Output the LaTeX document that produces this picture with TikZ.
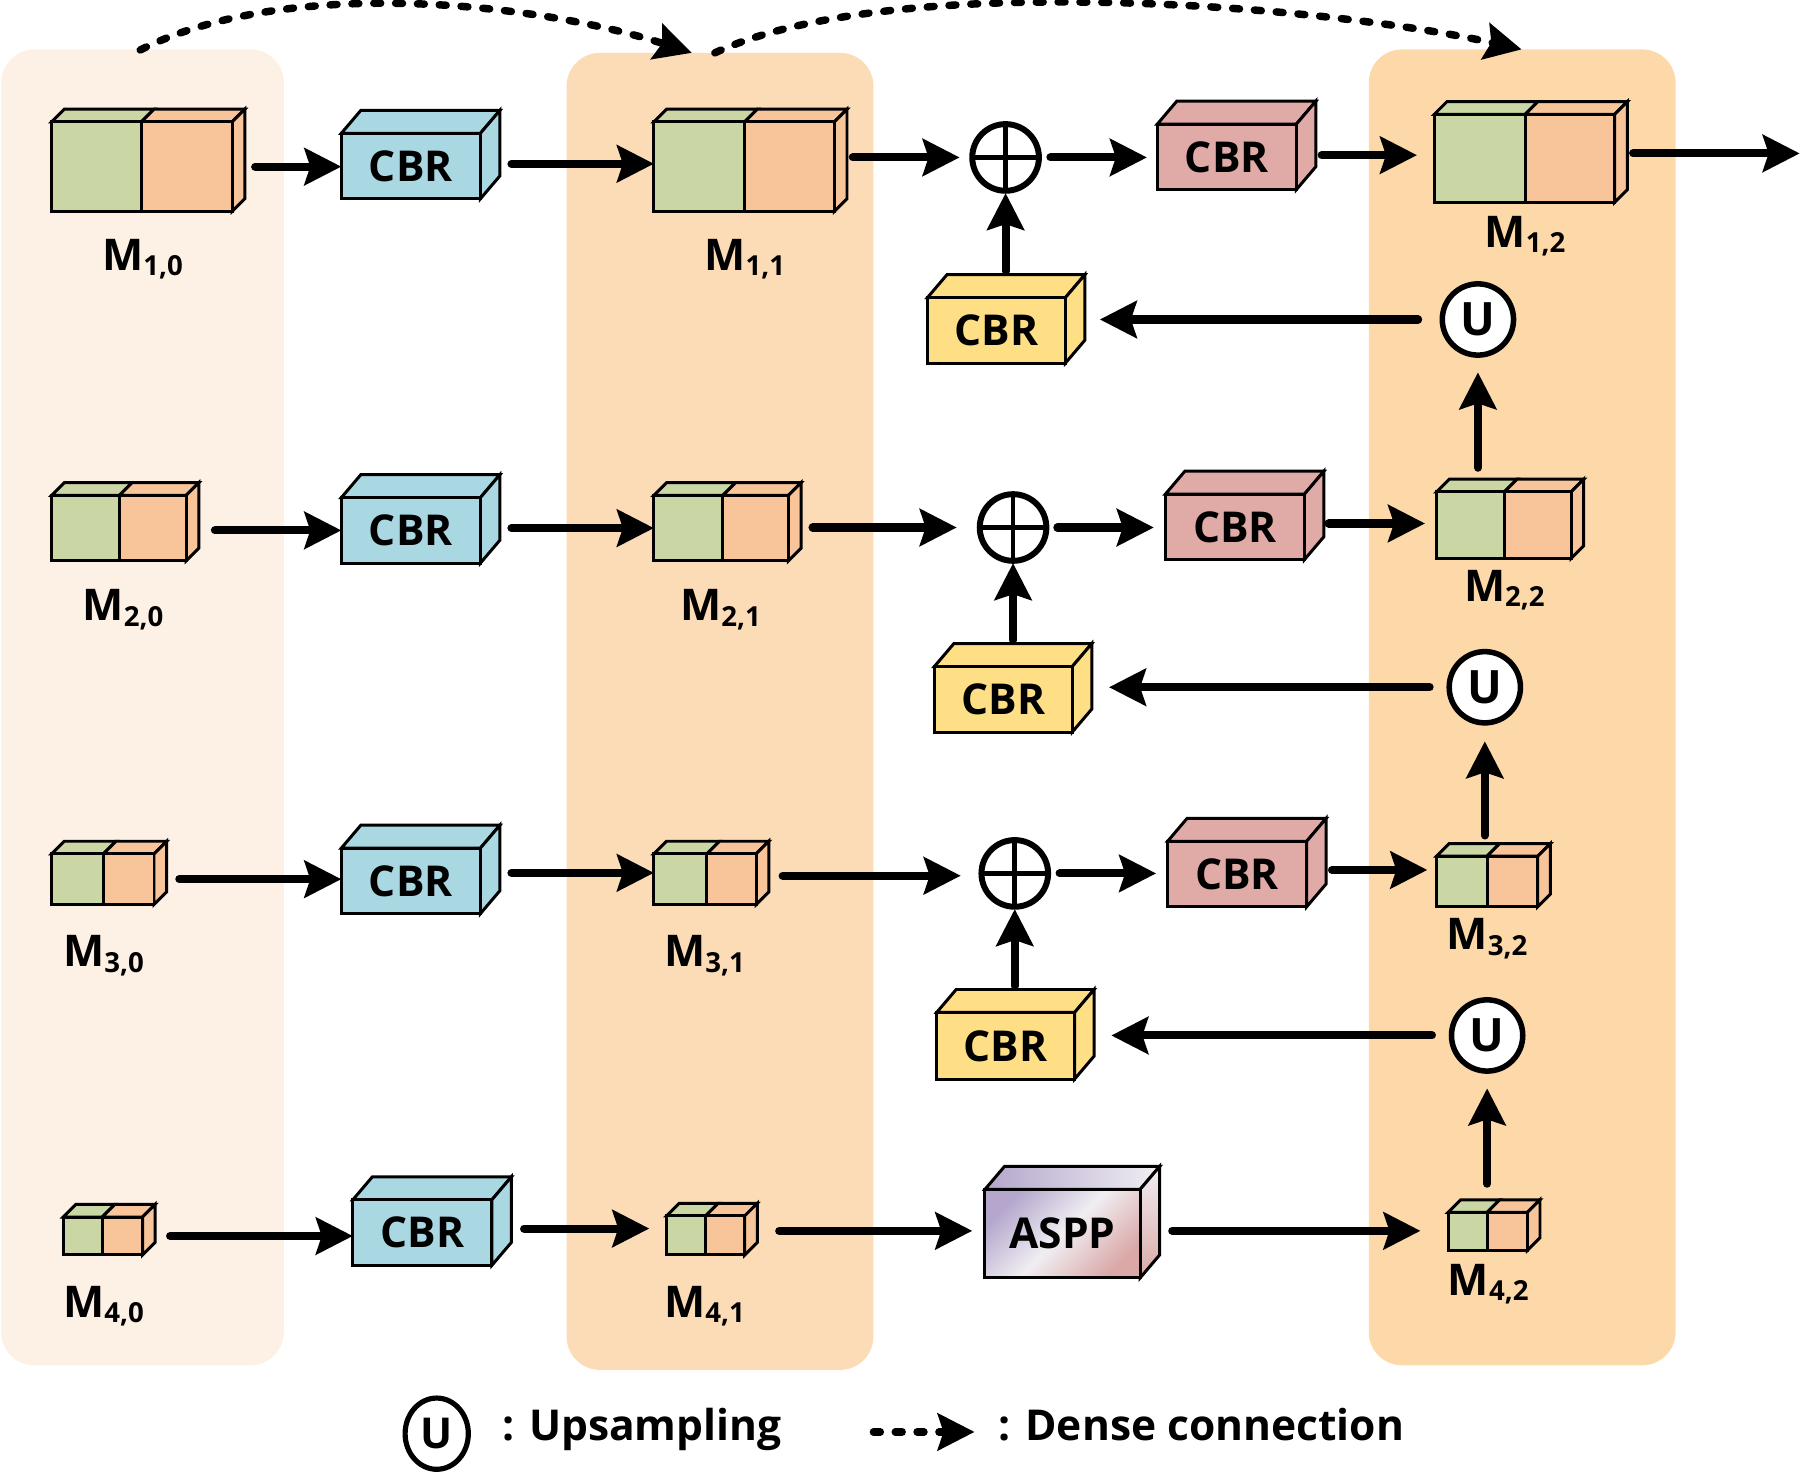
\documentclass[tikz,border=0pt]{standalone}
\usepackage{fontspec}
\setmainfont{Open Sans}
\usetikzlibrary{arrows.meta,shapes.geometric}
\definecolor{cg}{HTML}{CAD7A5}
\definecolor{co}{HTML}{F8C59B}
\definecolor{cb}{HTML}{A9D8E3}
\definecolor{cr}{HTML}{E0AAA7}
\definecolor{cy}{HTML}{FEDF85}
\definecolor{cpa}{HTML}{FDF0E4}
\definecolor{cpb}{HTML}{FCDBB7}
\definecolor{cpc}{HTML}{FDD8A8}
\definecolor{cpu}{HTML}{B4A6CC}
\definecolor{cwh}{HTML}{F0EEF2}
\definecolor{cpk}{HTML}{DBA8A8}
\newcommand{\cbrfont}{\fontsize{37}{37}\selectfont\bfseries}
\newcommand{\mlab}[2]{M\raisebox{-5pt}{\fontsize{24}{24}\selectfont #1,#2}}
% feature map: name, x1, y1, x2, y2, split, depth
\newcommand{\fmap}[7]{%
  \draw[bline,fill=cg] (#2,#3) -- ({#2+#7},{#3-#7}) -- ({#6+#7},{#3-#7}) -- (#6,#3) -- cycle;
  \draw[bline,fill=co] (#6,#3) -- ({#6+#7},{#3-#7}) -- ({#4+#7},{#3-#7}) -- (#4,#3) -- cycle;
  \draw[bline,fill=co] (#4,#3) -- ({#4+#7},{#3-#7}) -- ({#4+#7},{#5-#7}) -- (#4,#5) -- cycle;
  \draw[bline,fill=cg] (#2,#3) rectangle (#6,#5);
  \draw[bline,fill=co] (#6,#3) rectangle (#4,#5);
  \node[inner sep=0pt,minimum width={(#4-#2)*1pt},minimum height={(#5-#3)*1pt}] (#1) at ({(#2+#4)/2},{(#3+#5)/2}) {};
  \coordinate (#1t) at ({(#2+#4)/2+#7},{#3-#7});
}
% CBR block: name, x1, y1, x2, y2, colour
\newcommand{\cbrbox}[6]{%
  \draw[bline,fill=#6] (#2,#3) -- ({#2+17},{#3-20}) -- ({#4+17},{#3-20}) -- (#4,#3) -- cycle;
  \draw[bline,fill=#6] (#4,#3) -- ({#4+17},{#3-20}) -- ({#4+17},{#5-20}) -- (#4,#5) -- cycle;
  \node[bline,draw,fill=#6,inner sep=0pt,minimum width={(#4-#2)*1pt},minimum height={(#5-#3)*1pt},font=\cbrfont] (#1) at ({(#2+#4)/2},{(#3+#5)/2}) {CBR};
  \coordinate (#1t) at ({(#2+#4)/2+8.5},{#3-20});
  \coordinate (#1r) at ({#4+17},{(#3+#5)/2-10});
}
\begin{document}
\begin{tikzpicture}[x=1pt,y=-1pt,
  every node/.style={outer sep=0pt},
  bline/.style={line width=2.6pt},
  arr/.style={line width=7pt, line cap=round, -{Stealth[length=32pt,width=32pt,inset=5pt]}},
  dense/.style={line width=6.5pt, line cap=round, dash pattern=on 6pt off 13pt, -{Stealth[length=32pt,width=32pt,inset=5pt]}},
  plusnode/.style={circle, draw, fill=white, line width=5.2pt, minimum size=58pt, inner sep=0pt,
    path picture={\draw[line width=4pt] (path picture bounding box.north) -- (path picture bounding box.south)
      (path picture bounding box.west) -- (path picture bounding box.east);}},
  upnode/.style={circle, draw, fill=white, line width=4.8pt, minimum size=62pt, inner sep=0pt, font=\fontsize{40}{40}\selectfont\bfseries},
  lab/.style={anchor=base, inner sep=0pt, font=\fontsize{38}{38}\selectfont\bfseries},
  legtext/.style={anchor=base west, inner sep=0pt, font=\fontsize{37}{37}\selectfont\bfseries},
  panel/.style={rounded corners=29pt}
]
\useasboundingbox (0,0) rectangle (1568,1287);
% panels
\fill[cpa,panel] (1,43) rectangle (247,1188);
\fill[cpb,panel] (493,46) rectangle (760,1192);
\fill[cpc,panel] (1191,43) rectangle (1458,1188);

% feature maps
\fmap{m10}{45}{106}{202}{184}{123}{11}
\fmap{m11}{569}{106}{726}{184}{648}{11}
\fmap{m12}{1248}{99.5}{1405}{176}{1327}{11}
\fmap{m20}{45}{431}{162}{488}{104}{11}
\fmap{m21}{569}{431}{686}{488}{629}{11}
\fmap{m22}{1250}{428}{1367}{486}{1309}{11}
\fmap{m30}{45}{743}{134}{787}{90}{11}
\fmap{m31}{569}{743}{658}{787}{615}{11}
\fmap{m32}{1250}{745}{1338}{789}{1294}{11}
\fmap{m40}{55}{1059}{124}{1092}{89}{11}
\fmap{m41}{580}{1058}{648}{1092}{614}{11}
\fmap{m42}{1260}{1055}{1329}{1088}{1294}{11}

% labels
\node[lab] (l10) at (124,235) {\mlab{1}{0}};
\node[lab] (l11) at (648,235) {\mlab{1}{1}};
\node[lab] (l12) at (1327,215) {\mlab{1}{2}};
\node[lab] (l20) at (107,540) {\mlab{2}{0}};
\node[lab] (l21) at (627,540) {\mlab{2}{1}};
\node[lab] (l22) at (1309,523) {\mlab{2}{2}};
\node[lab] (l30) at (90,841) {\mlab{3}{0}};
\node[lab] (l31) at (613,841) {\mlab{3}{1}};
\node[lab] (l32) at (1294,826) {\mlab{3}{2}};
\node[lab] (l40) at (90,1146) {\mlab{4}{0}};
\node[lab] (l41) at (613,1146) {\mlab{4}{1}};
\node[lab] (l42) at (1295,1127) {\mlab{4}{2}};

% CBR blocks
\cbrbox{b1}{297}{116}{418}{173}{cb}
\cbrbox{b2}{297}{433}{418}{490}{cb}
\cbrbox{b3}{297}{738}{418}{795}{cb}
\cbrbox{b4}{307}{1044}{428}{1101}{cb}
\cbrbox{r1}{1007}{108}{1128}{165}{cr}
\cbrbox{r2}{1014}{430}{1135}{487}{cr}
\cbrbox{r3}{1016}{732}{1137}{789}{cr}
\cbrbox{y1}{807}{259}{927}{316}{cy}
\cbrbox{y2}{813}{580}{933}{637}{cy}
\cbrbox{y3}{815}{881}{935}{939}{cy}

% ASPP
\draw[bline,left color=cpu,right color=cwh] (857,1035) -- (874,1015) -- (1009,1015) -- (992,1035) -- cycle;
\draw[bline,top color=cwh,bottom color=cpk] (992,1035) -- (1009,1015) -- (1009,1092) -- (992,1112) -- cycle;
\node[bline,draw,top color=cpu,bottom color=cpk,middle color=cwh,shading angle=45,inner sep=0pt,
  minimum width=135pt,minimum height=77pt,font=\cbrfont] (aspp) at (924.5,1073.5) {ASPP};

% sum and upsampling nodes
\node[plusnode] (p1) at (875,137) {};
\node[plusnode] (p2) at (881.5,459) {};
\node[plusnode] (p3) at (883,760) {};
\node[upnode] (u1) at (1286,278) {U};
\node[upnode] (u2) at (1292,598) {U};
\node[upnode] (u3) at (1294,901) {U};

% row 1
\draw[arr, shorten <=20pt] (m10.east) -- (m10.east -| b1.west);
\draw[arr, shorten <=27pt] ([yshift=2pt]b1.east) -- ([yshift=2pt]b1.east -| m11.west);
\draw[arr, shorten <=16pt, shorten >=11pt] (p1.west -| m11.east) -- (p1.west);
\draw[arr, shorten <=10pt, shorten >=9pt] (p1.east) -- (p1.east -| r1.west);
\draw[arr, shorten <=22pt, shorten >=15pt] ([yshift=1.5pt]r1.east) -- ([yshift=1.5pt]r1.east -| m12.west);
\coordinate (out) at (1566,133.5);
\draw[arr, shorten <=16pt] (m12.east |- out) -- (out);
\draw[arr, shorten <=3pt, shorten >=2pt] (p1.south |- y1t) -- (p1.south);
\draw[arr, shorten <=21pt, shorten >=13pt] (u1.west) -- (u1.west -| y1r);
\draw[arr, shorten <=10pt, shorten >=15pt] (u1.south |- m22t) -- (u1.south);

% row 2
\draw[arr, shorten <=25pt] (b2.west -| m20.east) -- (b2.west);
\draw[arr, shorten <=27pt] (m21.west -| b2.east) -- (m21.west);
\draw[arr, shorten <=21pt, shorten >=20pt] (p2.west -| m21.east) -- (p2.west);
\draw[arr, shorten <=9.5pt, shorten >=10pt] (p2.east) -- (p2.east -| r2.west);
\draw[arr, shorten <=21pt, shorten >=10pt] ([yshift=3pt]r2.east) -- ([yshift=3pt]r2.east -| m22.west);
\draw[arr, shorten <=3pt, shorten >=2pt] (p2.south |- y2t) -- (p2.south);
\draw[arr, shorten <=17pt, shorten >=15pt] (u2.west) -- (u2.west -| y2r);
\draw[arr, shorten <=7pt, shorten >=16pt] (u2.south |- m32t) -- (u2.south);

% row 3
\draw[arr, shorten <=22pt] (m30.east) -- (m30.east -| b3.west);
\draw[arr, shorten <=27pt] ([yshift=7pt]b3.east) -- ([yshift=7pt]b3.east -| m31.west);
\draw[arr, shorten <=23pt, shorten >=18pt] ([yshift=3pt]m31.east) -- ([yshift=3pt]m31.east -| p3.west);
\draw[arr, shorten <=10pt, shorten >=10pt] (p3.east) -- (p3.east -| r3.west);
\draw[arr, shorten <=22pt, shorten >=8pt] ([yshift=3.5pt]r3.east) -- ([yshift=3.5pt]r3.east -| m32.west);
\draw[arr, shorten <=3pt, shorten >=2pt] (p3.south |- y3t) -- (p3.south);
\draw[arr, shorten <=17pt, shorten >=15pt] (u3.west) -- (u3.west -| y3r);
\draw[arr, shorten <=14pt, shorten >=15pt] (u3.south |- m42t) -- (u3.south);

% row 4
\draw[arr, shorten <=24pt] (m40.east) -- (m40.east -| b4.west);
\draw[arr, shorten <=28pt, shorten >=15pt] ([yshift=3.5pt]b4.east) -- ([yshift=3.5pt]b4.east -| m41.west);
\draw[arr, shorten <=30pt, shorten >=11pt] ([yshift=2.5pt]aspp.west -| m41.east) -- ([yshift=2.5pt]aspp.west);
\draw[arr, shorten <=28pt, shorten >=24pt] ([yshift=2.5pt]aspp.east) -- ([yshift=2.5pt]aspp.east -| m42.west);

% dense connections
\coordinate (d1s) at (122,43.5);
\coordinate (d1e) at (602,46);
\draw[dense] (d1s) .. controls (249,-21) and (466,2) .. (d1e);
\coordinate (d2s) at (622,46);
\coordinate (d2e) at (1324,43);
\draw[dense] (d2s) .. controls (778,-27) and (1156,5) .. (d2e);

% legend
\node[draw, ellipse, line width=4.5pt, minimum width=55pt, minimum height=62pt, inner sep=0pt,
  font=\fontsize{37}{37}\selectfont\bfseries] (lu) at (380,1247.5) {U};
\node[legtext] (lut) at (437,1253.5) {: Upsampling};
\coordinate (lds) at (760,1246);
\coordinate (lde) at (848,1246);
\draw[dense] (lds) -- (lde);
\node[legtext] (ldt) at (869,1253) {: Dense connection};
\end{tikzpicture}
\end{document}
